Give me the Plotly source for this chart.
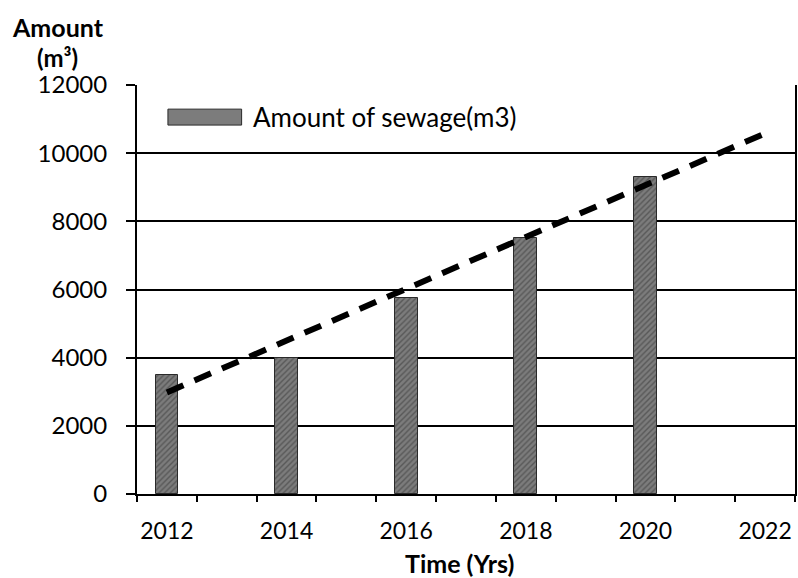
import plotly.graph_objects as go

# 연도별 하수량 (막대)
years = [2012, 2014, 2016, 2018, 2020]
sewage = [3500, 4000, 5750, 7500, 9300]

# 추세선 (점선) 양 끝 값
trend_years = [2012, 2022]
trend_values = [2980, 10580]

x_ticks = [2012, 2014, 2016, 2018, 2020, 2022]
y_ticks = [0, 2000, 4000, 6000, 8000, 10000, 12000]

FONT = "Lato, Carlito, 'Open Sans', sans-serif"

fig = go.Figure()

fig.add_trace(go.Bar(
    x=years,
    y=sewage,
    width=0.38,
    marker=dict(
        color="#7c7c7c",
        line=dict(color="#2a2a2a", width=1),
        pattern=dict(shape="/", fgcolor="#333333", size=4, solidity=0.35),
    ),
    name="Amount of sewage(m3)",
    showlegend=False,
))

fig.add_trace(go.Scatter(
    x=trend_years,
    y=trend_values,
    mode="lines",
    line=dict(color="black", width=6, dash="18px,12px"),
    showlegend=False,
))

fig.update_layout(
    width=798,
    height=578,
    margin=dict(l=137, r=1, t=85, b=84),
    plot_bgcolor="white",
    paper_bgcolor="white",
    font=dict(family=FONT, size=24, color="black"),
    bargap=0,
)

fig.update_xaxes(
    range=[2011.5, 2022.5],
    tickmode="array",
    tickvals=x_ticks,
    ticktext=[str(v) for v in x_ticks],
    tickfont=dict(size=23),
    ticks="",
    ticklabelstandoff=15,
    showgrid=False,
    showline=True,
    linecolor="black",
    linewidth=2,
    zeroline=False,
    minor=dict(ticks="outside", tick0=2011.5, dtick=1, ticklen=6,
               tickcolor="black", tickwidth=2, showgrid=False),
)

fig.update_yaxes(
    range=[0, 12000],
    tickmode="array",
    tickvals=y_ticks,
    ticktext=[str(v) for v in y_ticks],
    tickfont=dict(size=24),
    ticks="outside",
    ticklen=9,
    tickwidth=2,
    tickcolor="black",
    ticklabelstandoff=14,
    showgrid=True,
    gridcolor="black",
    gridwidth=2,
    showline=True,
    linecolor="black",
    linewidth=2,
    mirror=True,
    zeroline=False,
)

# 축 제목
fig.add_annotation(text="<b>Amount</b>", xref="paper", yref="paper",
                   x=-0.193, y=1.0, yshift=58, xanchor="left", yanchor="middle",
                   showarrow=False, font=dict(size=25))
fig.add_annotation(text="<b>(m³)</b>", xref="paper", yref="paper",
                   x=-0.155, y=1.0, yshift=28, xanchor="left", yanchor="middle",
                   showarrow=False, font=dict(size=24))
fig.add_annotation(text="<b>Time (Yrs)</b>", xref="paper", yref="paper",
                   x=0.49, y=0, yshift=-69, xanchor="center", yanchor="middle",
                   showarrow=False, font=dict(size=25))

# 범례 (수동)
fig.add_shape(type="rect", xref="paper", yref="paper",
              x0=0.047, x1=0.159, y0=0.902, y1=0.941,
              fillcolor="#7c7c7c", line=dict(color="#2a2a2a", width=1))
fig.add_annotation(text="Amount of sewage(m3)", xref="paper", yref="paper",
                   x=0.174, y=0.922, xanchor="left", yanchor="middle",
                   showarrow=False, font=dict(size=26))

# 페이지 기본 여백 제거
fig.write_html("out.html", config={"displayModeBar": False},
               post_script="document.body.style.margin='0';")
